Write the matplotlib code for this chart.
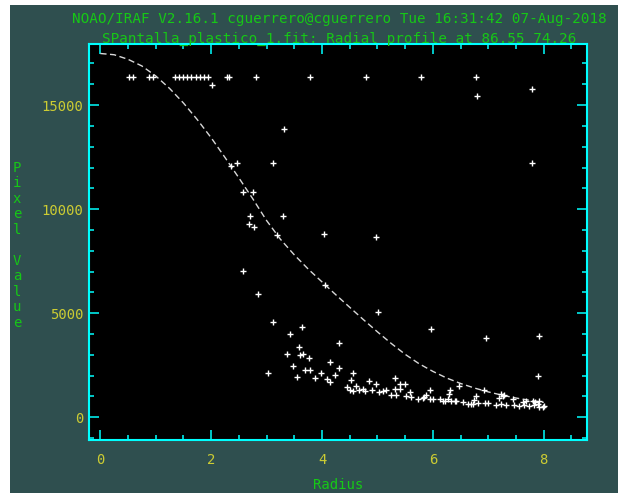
import matplotlib
matplotlib.use("Agg")
import matplotlib.pyplot as plt
from matplotlib.patches import Rectangle
from matplotlib.ticker import MultipleLocator

W, H = 618, 493

TITLE_1 = "NOAO/IRAF V2.16.1 cguerrero@cguerrero Tue 16:31:42 07-Aug-2018"
TITLE_2 = "SPantalla_plastico_1.fit: Radial profile at 86.55 74.26"
X_LABEL = "Radius"
Y_LABEL = "Pixel Value"

x_ticks = [0, 2, 4, 6, 8]
y_ticks = [0, 5000, 10000, 15000]

# Fitted radial profile
fit_radius = [0.0, 0.25, 0.5, 0.75, 1.0, 1.25, 1.5, 1.75, 2.0, 2.25,
              2.5, 2.75, 3.0, 3.25, 3.5, 3.75, 4.0, 4.25, 4.5, 4.75,
              5.0, 5.25, 5.5, 5.75, 6.0, 6.25, 6.5, 6.75, 7.0, 7.25,
              7.5, 7.75, 8.0]
fit_value = [17480, 17420, 17200, 16880, 16400, 15800, 15100, 14300, 13430, 12480,
             11500, 10500, 9450, 8550, 7800, 7120, 6500, 5880, 5280, 4680,
             4100, 3540, 3020, 2570, 2200, 1880, 1620, 1400, 1215, 1055,
             920, 810, 710]

# Measured pixels: saturated row near 16330
sat_radius = [0.52, 0.59, 0.88, 0.95, 1.34, 1.42, 1.49, 1.57, 1.64, 1.72,
              1.79, 1.87, 1.94, 2.28, 2.32, 2.80, 3.79, 4.79, 5.79, 6.78]
sat_value = [16330] * len(sat_radius)

# Measured pixels: remaining points
pix_radius = [
    2.01, 6.79, 7.79, 3.31, 7.79, 2.47, 3.12, 2.35, 2.58, 2.76,
    2.70, 2.68, 2.77, 3.30, 3.18, 4.03, 4.98, 2.58, 2.85, 4.06,
    5.01, 5.97, 6.95, 7.92, 7.90,
    3.11, 3.63, 3.43, 4.30, 3.58, 3.36, 3.60, 3.66, 3.76, 4.15,
    3.48, 3.70, 3.79, 4.30, 3.03, 3.98, 3.55, 3.88, 4.23, 4.55,
    4.09, 4.14, 4.53, 4.85, 5.31,
    4.45, 4.50, 4.55, 4.62, 4.66, 4.74, 4.77, 4.91, 4.98, 5.03,
    5.10, 5.15, 5.25, 5.34, 5.31, 5.40, 5.41, 5.49, 5.51, 5.58,
    5.61, 5.73, 5.84, 5.88, 5.94, 5.94, 6.01, 6.12, 6.21, 6.27,
    6.30, 6.29, 6.40, 5.82, 6.18,
    6.47, 6.78, 6.93, 7.23, 7.27, 7.44, 6.33, 6.42, 6.54, 6.63,
    6.72, 6.82, 6.94, 7.00, 7.14, 7.23, 7.32, 7.47, 7.56, 7.65,
    7.74, 7.83, 7.92, 8.01, 7.68, 7.80, 7.92, 6.69, 6.75, 7.20,
    7.29, 7.62, 7.89, 7.98, 7.85,
]
pix_value = [
    15950, 15430, 15750, 13870, 12200, 12220, 12220, 12075, 10800, 10800,
    9650, 9270, 9140, 9650, 8740, 8800, 8680, 7025, 5935, 6370,
    5050, 4235, 3800, 3915, 1975,
    4555, 4330, 3990, 3580, 3350, 3050, 3000, 3050, 2840, 2650,
    2470, 2280, 2280, 2375, 2135, 2135, 1940, 1875, 2040, 2135,
    1830, 1685, 1765, 1730, 1860,
    1440, 1330, 1280, 1490, 1330, 1365, 1235, 1330, 1605, 1200,
    1235, 1330, 1075, 1075, 1365, 1365, 1605, 1605, 1030, 1200,
    960, 850, 960, 1075, 1285, 885, 850, 885, 755, 850,
    1330, 1125, 755, 930, 800,
    1475, 995, 1285, 1090, 995, 885, 800, 770, 720, 640,
    640, 660, 660, 660, 565, 640, 565, 565, 515, 565,
    515, 565, 480, 515, 755, 755, 755, 610, 835, 930,
    1045, 720, 645, 470, 720,
]

SLATE = "#2f4f4f"
CYAN = "#00ffff"
YELLOW = "#cccc33"
GREEN = "#16c816"
MONO = "DejaVu Sans Mono"

fig = plt.figure(figsize=(W / 100, H / 100), dpi=100, facecolor="white")
fig.patches.append(Rectangle((10 / W, 0), (W - 10) / W, (H - 5) / H,
                             transform=fig.transFigure, facecolor=SLATE,
                             edgecolor="none", zorder=-10))

left, right, top, bottom = 88.5, 587.0, 44.0, 440.0
ax = fig.add_axes([left / W, (H - bottom) / H, (right - left) / W, (bottom - top) / H])
ax.set_facecolor("black")

ax.plot(fit_radius, fit_value, color="#d8d8d8", lw=1.0,
        linestyle=(0, (4.5, 2.5)), zorder=2)
ax.plot(sat_radius, sat_value, linestyle="none", marker="+", ms=5,
        mew=1.0, color="white", zorder=3)
ax.plot(pix_radius, pix_value, linestyle="none", marker="+", ms=5,
        mew=1.0, color="white", zorder=3)

ax.set_xlim(-0.213, 8.78)
ax.set_ylim(-1097, 17936)
ax.set_xticks(x_ticks)
ax.set_yticks(y_ticks)
ax.xaxis.set_minor_locator(MultipleLocator(0.5))
ax.yaxis.set_minor_locator(MultipleLocator(1000))

for s in ax.spines.values():
    s.set_color(CYAN)
    s.set_linewidth(1.5)

ax.tick_params(which="both", direction="in", color=CYAN, top=True, right=True,
               width=1.1)
ax.tick_params(which="major", length=7.2)
ax.tick_params(which="minor", length=3.6)
ax.tick_params(axis="x", which="major", pad=9.5, labelcolor=YELLOW, labelsize=10)
ax.tick_params(axis="y", which="major", pad=3.6, labelcolor=YELLOW, labelsize=10)
for lab in ax.get_xticklabels() + ax.get_yticklabels():
    lab.set_family(MONO)

cx = 339 / W
fig.text(cx, 1 - 19 / H, TITLE_1, color=GREEN, family=MONO, fontsize=10.3,
         ha="center", va="center")
fig.text(cx, 1 - 38.8 / H, TITLE_2, color=GREEN, family=MONO, fontsize=10.3,
         ha="center", va="center")
fig.text(338.6 / W, 1 - 485.4 / H, X_LABEL, color=GREEN, family=MONO,
         fontsize=10, ha="center", va="center")

# vertical label, one character per row
for i, ch in enumerate(Y_LABEL):
    if ch == " ":
        continue
    fig.text(17 / W, 1 - (167.7 + i * 15.5) / H, ch, color=GREEN, family=MONO,
             fontsize=10, ha="center", va="center")

fig.savefig("out.png", dpi=100, facecolor=fig.get_facecolor())
